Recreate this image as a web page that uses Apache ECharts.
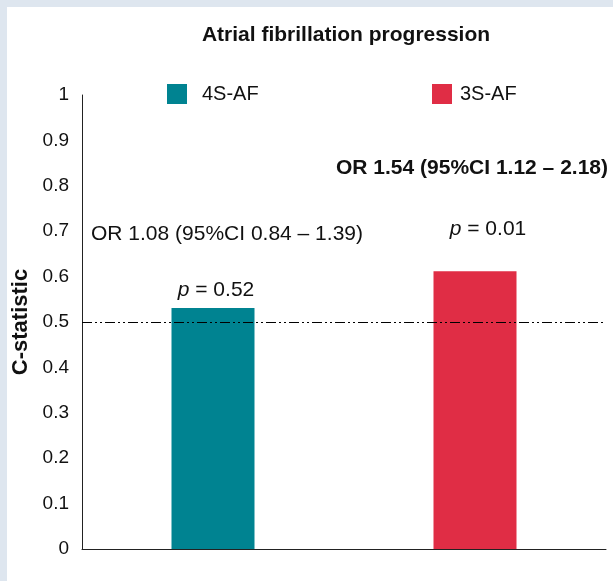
<!DOCTYPE html>
<html><head><meta charset="utf-8">
<script src="https://cdn.jsdelivr.net/npm/echarts@6/dist/echarts.min.js"></script>
<style>
html,body{margin:0;padding:0;background:#dee6ef;}
#wrap{position:relative;width:613px;height:581px;background:#dee6ef;overflow:hidden;}
#c{position:absolute;left:7px;top:7px;width:606px;height:574px;background:#fff;}
</style></head><body>
<div id="wrap"><div id="c"></div></div>
<script>
const categories = ['4S-AF', '3S-AF'];
const cStatistic = [0.531, 0.612];
const pLabels = ['0.52', '0.01'];
const orLabels = ['OR 1.08 (95%CI 0.84 \u2013 1.39)', 'OR 1.54 (95%CI 1.12 \u2013 2.18)'];
const refLine = 0.5;
const colors = ['#008391', '#e02d45'];
const title = 'Atrial fibrillation progression';
const yName = 'C-statistic';

const chart = echarts.init(document.getElementById('c'), null, {renderer: 'canvas'});
const font = 'Liberation Sans, Arial, sans-serif';
const ink = '#111';

const series = categories.map((name, i) => ({
  name: name,
  type: 'bar',
  stack: 'all',
  barWidth: 83,
  itemStyle: {color: colors[i]},
  data: categories.map((c, j) => j === i ? {
    value: cStatistic[i],
    label: {
      show: true,
      position: 'top',
      distance: i === 0 ? 7 : 31,
      offset: i === 0 ? [3, 0] : [13, 0],
      formatter: '{p|p} = ' + pLabels[i],
      color: ink, fontSize: 21, fontFamily: font,
      rich: {p: {fontStyle: 'italic', fontSize: 21, fontFamily: font, color: ink}}
    }
  } : '-'),
  markLine: i === 0 ? {
    silent: true,
    symbol: 'none',
    label: {show: false},
    lineStyle: {color: '#000', width: 1, type: [10, 3, 2, 3, 2, 3]},
    data: [{yAxis: refLine}]
  } : undefined
}));

chart.setOption({
  animation: false,
  textStyle: {fontFamily: font},
  grid: {left: 75, right: 7, top: 88, bottom: 32, containLabel: false, outerBoundsMode: 'none'},
  legend: [
    {data: [categories[0]], left: 160, top: 77, padding: 0, icon: 'rect', itemWidth: 20, itemHeight: 20,
     textStyle: {fontSize: 20, color: ink, fontFamily: font, padding: [0, 0, 0, 10]}},
    {data: [categories[1]], left: 425, top: 77, padding: 0, icon: 'rect', itemWidth: 20, itemHeight: 20,
     textStyle: {fontSize: 20, color: ink, fontFamily: font, padding: [0, 0, 0, 3]}}
  ],
  xAxis: {
    type: 'category', data: categories,
    axisLine: {lineStyle: {color: '#222', width: 1}},
    axisTick: {show: false}, axisLabel: {show: false}
  },
  yAxis: {
    type: 'value', min: 0, max: 1, interval: 0.1,
    name: yName, nameLocation: 'middle', nameRotate: 90, nameGap: 49,
    nameTextStyle: {fontWeight: 'bold', fontSize: 22, color: ink, fontFamily: font},
    axisLine: {show: true, lineStyle: {color: '#222', width: 1}},
    axisTick: {show: false},
    splitLine: {show: false},
    axisLabel: {fontSize: 19, color: ink, margin: 13, fontFamily: font,
      formatter: v => String(Math.round(v * 10) / 10)}
  },
  graphic: [
    {type: 'text', x: 339, y: 28, style: {text: title, font: 'bold 21px ' + font, fill: ink, textAlign: 'center', textVerticalAlign: 'middle'}},
    {type: 'text', x: 84, y: 227, style: {text: orLabels[0], font: '21px ' + font, fill: ink, textAlign: 'left', textVerticalAlign: 'middle'}},
    {type: 'text', x: 601, y: 161, style: {text: orLabels[1], font: 'bold 21px ' + font, fill: ink, textAlign: 'right', textVerticalAlign: 'middle'}}
  ],
  series: series
});
</script>
</body></html>
